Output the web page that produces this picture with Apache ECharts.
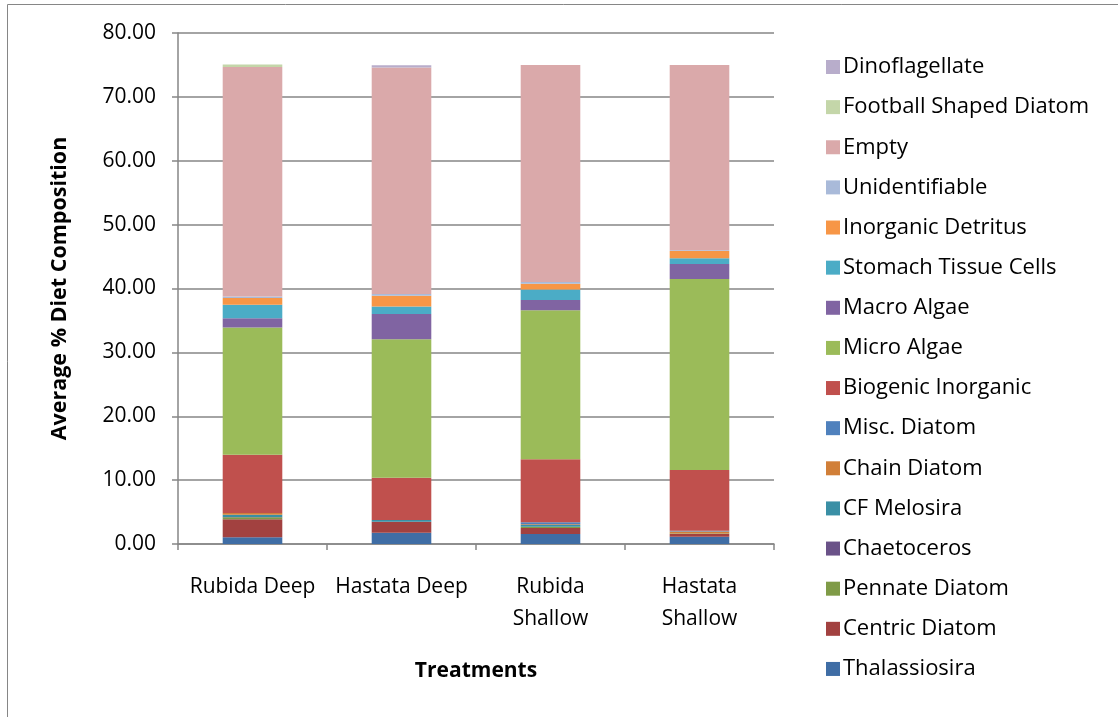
<!DOCTYPE html>
<html>
<head>
<meta charset="utf-8">
<script src="https://cdn.jsdelivr.net/npm/echarts@6/dist/echarts.min.js"></script>
<style>
  html, body { margin: 0; padding: 0; background: #fff; }
  #chart { width: 1118px; height: 717px; }
</style>
</head>
<body>
<div id="chart"></div>
<script>
// Treatments along the x axis
const categories = ['Rubida Deep', 'Hastata Deep', 'Rubida\nShallow', 'Hastata\nShallow'];

// Average % diet composition per item, one value per treatment (bottom of stack first)
const thalassiosira      = [1.04, 1.77, 1.57, 1.14];
const centricDiatom      = [2.82, 1.72, 0.94, 0.42];
const pennateDiatom      = [0.31, 0.00, 0.20, 0.10];
const chaetoceros        = [0.05, 0.00, 0.00, 0.00];
const cfMelosira         = [0.37, 0.26, 0.25, 0.00];
const chainDiatom        = [0.26, 0.00, 0.15, 0.30];
const miscDiatom         = [0.00, 0.00, 0.30, 0.10];
const biogenicInorganic  = [9.13, 6.63, 9.86, 9.51];
const microAlgae         = [19.92, 21.68, 23.32, 29.92];
const macroAlgae         = [1.45, 3.93, 1.61, 2.35];
const stomachTissueCells = [2.10, 1.19, 1.63, 0.89];
const inorganicDetritus  = [1.08, 1.68, 0.91, 1.14];
const unidentifiable     = [0.22, 0.26, 0.27, 0.13];
const empty              = [35.93, 35.48, 33.99, 29.00];
const footballDiatom     = [0.38, 0.00, 0.00, 0.00];
const dinoflagellate     = [0.00, 0.34, 0.00, 0.00];

// y axis ticks
const yMin = 0, yMax = 80, yStep = 10;

const seriesDefs = [
  ['Thalassiosira', thalassiosira, '#3F6DA5'],
  ['Centric Diatom', centricDiatom, '#A24140'],
  ['Pennate Diatom', pennateDiatom, '#7F9B47'],
  ['Chaetoceros', chaetoceros, '#6A5288'],
  ['CF Melosira', cfMelosira, '#3A8FA5'],
  ['Chain Diatom', chainDiatom, '#D17F38'],
  ['Misc. Diatom', miscDiatom, '#4F81BD'],
  ['Biogenic Inorganic', biogenicInorganic, '#C0504D'],
  ['Micro Algae', microAlgae, '#9BBB59'],
  ['Macro Algae', macroAlgae, '#8064A2'],
  ['Stomach Tissue Cells', stomachTissueCells, '#4BACC6'],
  ['Inorganic Detritus', inorganicDetritus, '#F79646'],
  ['Unidentifiable', unidentifiable, '#A9BAD9'],
  ['Empty', empty, '#DAA9AA'],
  ['Football Shaped Diatom', footballDiatom, '#C4D6A9'],
  ['Dinoflagellate', dinoflagellate, '#B8ADCB']
];

const font = '"Open Sans", "Noto Sans", sans-serif';
const chart = echarts.init(document.getElementById('chart'), null, { renderer: 'canvas' });

chart.setOption({
  animation: false,
  backgroundColor: '#fff',
  textStyle: { fontFamily: font, color: '#000' },
  graphic: [{
    type: 'rect',
    shape: { x: 7.5, y: 4.5, width: 1200, height: 800 },
    style: { fill: 'none', stroke: '#868686', lineWidth: 1 },
    silent: true, z: -10
  }],
  grid: { left: 178, right: 344, top: 33, bottom: 173, containLabel: false },
  legend: {
    orient: 'vertical',
    left: 821,
    top: 51,
    icon: 'rect',
    itemWidth: 14,
    itemHeight: 14,
    itemGap: 18.13,
    data: seriesDefs.map(d => d[0]).reverse(),
    textStyle: { fontSize: 22, lineHeight: 22, color: '#000', fontFamily: font, padding: [0, 0, 0, -2] }
  },
  xAxis: {
    type: 'category',
    data: categories,
    name: 'Treatments',
    nameLocation: 'middle',
    nameGap: 117,
    nameTextStyle: { fontSize: 21, fontWeight: 'bold', color: '#000', fontFamily: font },
    axisLine: { lineStyle: { color: '#868686', width: 1.5 } },
    axisTick: { show: true, length: 6, lineStyle: { color: '#868686', width: 1.5 } },
    axisLabel: { fontSize: 21, lineHeight: 32, color: '#000', margin: 27, interval: 0, fontFamily: font },
  },
  yAxis: {
    type: 'value',
    min: yMin,
    max: yMax,
    interval: yStep,
    name: 'Average % Diet Composition',
    nameLocation: 'middle',
    nameGap: 107,
    nameTextStyle: { fontSize: 21.5, fontWeight: 'bold', color: '#000', fontFamily: font },
    axisLine: { show: true, lineStyle: { color: '#868686', width: 1.5 } },
    axisTick: { show: true, length: 6, lineStyle: { color: '#868686', width: 1.5 } },
    axisLabel: { fontSize: 21, color: '#000', margin: 22, formatter: v => v.toFixed(2), fontFamily: font },
    splitLine: { lineStyle: { color: '#868686', width: 1.5 } }
  },
  series: seriesDefs.map(([name, data, color]) => ({
    name,
    type: 'bar',
    stack: 'diet',
    data,
    barWidth: '40%',
    itemStyle: { color },
    emphasis: { disabled: true }
  }))
});
</script>
</body>
</html>
